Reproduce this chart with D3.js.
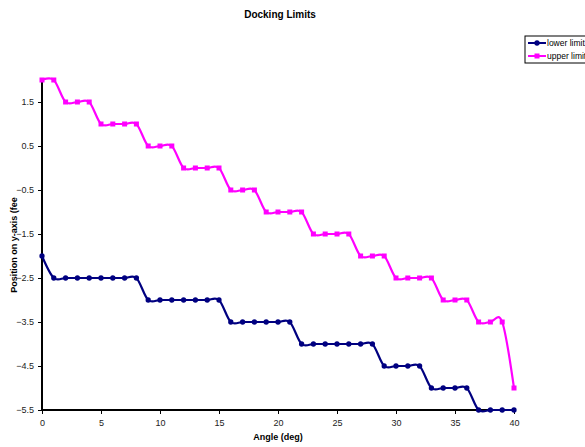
<!DOCTYPE html>
<html>
<head>
<meta charset="utf-8">
<script src="https://cdn.jsdelivr.net/npm/d3@7"></script>
<style>
  html, body { margin: 0; padding: 0; background: #fff; }
  svg { display: block; font-family: "Liberation Sans", Arial, sans-serif; }
</style>
</head>
<body>
<svg id="chart" width="585" height="447"></svg>
<script>
// Angle (deg) sampled at every whole degree
const angles = d3.range(0, 41);

// Lower docking limit, position on y-axis (feet)
const lowerLimit = [
  -2.0, -2.5, -2.5, -2.5, -2.5, -2.5, -2.5, -2.5, -2.5,
  -3.0, -3.0, -3.0, -3.0, -3.0, -3.0, -3.0,
  -3.5, -3.5, -3.5, -3.5, -3.5, -3.5,
  -4.0, -4.0, -4.0, -4.0, -4.0, -4.0, -4.0,
  -4.5, -4.5, -4.5, -4.5,
  -5.0, -5.0, -5.0, -5.0,
  -5.5, -5.5, -5.5, -5.5
];

// Upper docking limit, position on y-axis (feet)
const upperLimit = [
  2.0, 2.0,
  1.5, 1.5, 1.5,
  1.0, 1.0, 1.0, 1.0,
  0.5, 0.5, 0.5,
  0.0, 0.0, 0.0, 0.0,
  -0.5, -0.5, -0.5,
  -1.0, -1.0, -1.0, -1.0,
  -1.5, -1.5, -1.5, -1.5,
  -2.0, -2.0, -2.0,
  -2.5, -2.5, -2.5, -2.5,
  -3.0, -3.0, -3.0,
  -3.5, -3.5, -3.5,
  -5.0
];

const xTicks = [0, 5, 10, 15, 20, 25, 30, 35, 40];
const yTicks = [1.5, 0.5, -0.5, -1.5, -2.5, -3.5, -4.5, -5.5];

const seriesNames = ["lower limit", "upper limit"];
const seriesColors = ["#000080", "#FF00FF"];

const svg = d3.select("#chart");

const x = d3.scaleLinear().domain([0, 40]).range([42, 514]);
const y = d3.scaleLinear().domain([-5.5, 2]).range([410, 80]);

// Title
svg.append("text")
  .attr("x", 280).attr("y", 18)
  .attr("text-anchor", "middle")
  .attr("font-size", 10).attr("font-weight", "bold")
  .attr("fill", "#000")
  .text("Docking Limits");

// Axes
const xAxis = svg.append("g")
  .attr("transform", "translate(0,410)")
  .call(d3.axisBottom(x).tickValues(xTicks).tickSize(4).tickSizeOuter(0).tickPadding(6));
const yAxis = svg.append("g")
  .attr("transform", "translate(42,0)")
  .call(d3.axisLeft(y).tickValues(yTicks).tickSize(4).tickSizeOuter(0).tickPadding(4)
    .tickFormat(d => d === 0 ? "0" : d3.format(".1f")(d)));

[xAxis, yAxis].forEach(g => {
  g.select(".domain").attr("stroke", "#000").attr("stroke-width", 2);
  g.selectAll(".tick line").attr("stroke", "#000").attr("stroke-width", 1);
  g.selectAll(".tick text").attr("font-size", 9).attr("fill", "#222")
    .attr("font-family", "Liberation Sans, Arial, sans-serif");
});
xAxis.select(".domain").attr("d", "M42,0H514");
yAxis.select(".domain").attr("d", "M0,80V410");

// Axis titles
svg.append("text")
  .attr("x", 278).attr("y", 440)
  .attr("text-anchor", "middle")
  .attr("font-size", 9).attr("font-weight", "bold")
  .text("Angle (deg)");
svg.append("text")
  .attr("transform", "translate(17,245) rotate(-90)")
  .attr("text-anchor", "middle")
  .attr("font-size", 9).attr("font-weight", "bold")
  .text("Position on y-axis (fee");

// Smoothed series lines
const line = d3.line()
  .x((d, i) => x(angles[i]))
  .y(d => y(d))
  .curve(d3.curveCardinal.tension(0));

[lowerLimit, upperLimit].forEach((vals, s) => {
  svg.append("path")
    .attr("d", line(vals))
    .attr("fill", "none")
    .attr("stroke", seriesColors[s])
    .attr("stroke-width", 2.2);
});

// Markers: diamonds for the lower limit, squares for the upper limit
svg.append("g").selectAll("path")
  .data(lowerLimit)
  .join("path")
  .attr("transform", (d, i) => `translate(${x(angles[i])},${y(d)})`)
  .attr("d", d3.symbol(d3.symbolCircle, 22))
  .attr("fill", seriesColors[0]);

svg.append("g").selectAll("rect")
  .data(upperLimit)
  .join("rect")
  .attr("x", (d, i) => x(angles[i]) - 2.5)
  .attr("y", d => y(d) - 2.5)
  .attr("width", 5).attr("height", 5)
  .attr("fill", seriesColors[1]);

// Legend
const legend = svg.append("g").attr("transform", "translate(525,36)");
legend.append("rect")
  .attr("x", 0).attr("y", 0).attr("width", 64).attr("height", 27)
  .attr("fill", "#fff").attr("stroke", "#000").attr("stroke-width", 1);
seriesNames.forEach((name, i) => {
  const ly = 7 + i * 13;
  legend.append("line")
    .attr("x1", 3).attr("x2", 21).attr("y1", ly).attr("y2", ly)
    .attr("stroke", seriesColors[i]).attr("stroke-width", 2);
  if (i === 0) {
    legend.append("path")
      .attr("transform", `translate(12,${ly})`)
      .attr("d", d3.symbol(d3.symbolCircle, 22))
      .attr("fill", seriesColors[i]);
  } else {
    legend.append("rect")
      .attr("x", 9.5).attr("y", ly - 2.5).attr("width", 5).attr("height", 5)
      .attr("fill", seriesColors[i]);
  }
  legend.append("text")
    .attr("x", 22).attr("y", ly + 3)
    .attr("font-size", 8.5).attr("fill", "#000")
    .text(name);
});
</script>
</body>
</html>
